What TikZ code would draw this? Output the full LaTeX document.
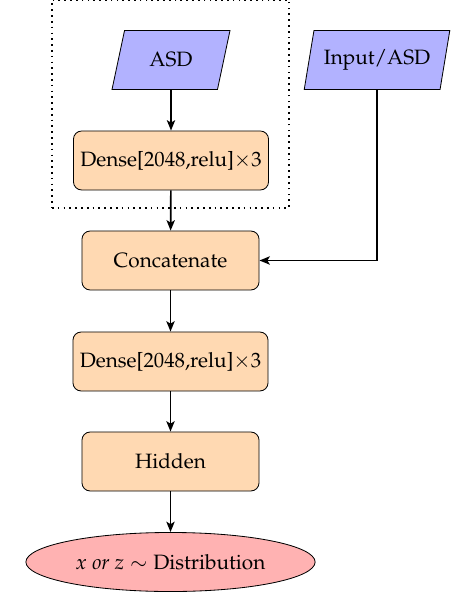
\documentclass[tikz,border=0pt]{standalone}
\usepackage[T1]{fontenc}
\usepackage{mathpazo}
\usetikzlibrary{shapes.geometric,arrows.meta}
\tikzset{
  process/.style={rectangle, rounded corners, minimum width=3cm, minimum height=1cm, text centered, draw=black, fill=orange!30},
  io/.style={trapezium, trapezium left angle=75, trapezium right angle=105, trapezium stretches=true, minimum height=1cm, text centered, draw=black, fill=blue!30},
  startstop/.style={ellipse, minimum width=4.9cm, minimum height=1cm, draw=black, fill=red!30},
  arrow/.style={thick, -{Stealth[length=5pt,width=4pt,inset=1.2pt]}},
  group/.style={draw, dotted, thick, inner sep=0pt}
}
\begin{document}
\begin{tikzpicture}[x=0.482pt, y=-0.482pt]
\useasboundingbox (0,0) rectangle (451,593);
\node[group, minimum width=237*0.482pt, minimum height=208*0.482pt] (grp) at (170.5,104) {};
\node[io, minimum width=118*0.482pt] (asd) at (171,60) {ASD};
\node[io, minimum width=146*0.482pt] (inp) at (377,60) {Input/ASD};
\node[process] (d1) at (171,160.5) {Dense[2048,relu]$\times$3};
\node[process] (cat) at (170.5,260.5) {Concatenate};
\node[process] (d2) at (170.5,361.5) {Dense[2048,relu]$\times$3};
\node[process] (hid) at (170.5,461.5) {Hidden};
\node[startstop] (out) at (170.5,562) {$x$ \textit{or} $z\sim\mbox{Distribution}$};
\draw[arrow] (asd) -- (d1);
\draw[arrow] (d1) -- (cat);
\draw[arrow] (inp.south) |- (cat.east);
\draw[arrow] (cat) -- (d2);
\draw[arrow] (d2) -- (hid);
\draw[arrow] (hid) -- (out);
\end{tikzpicture}
\end{document}
